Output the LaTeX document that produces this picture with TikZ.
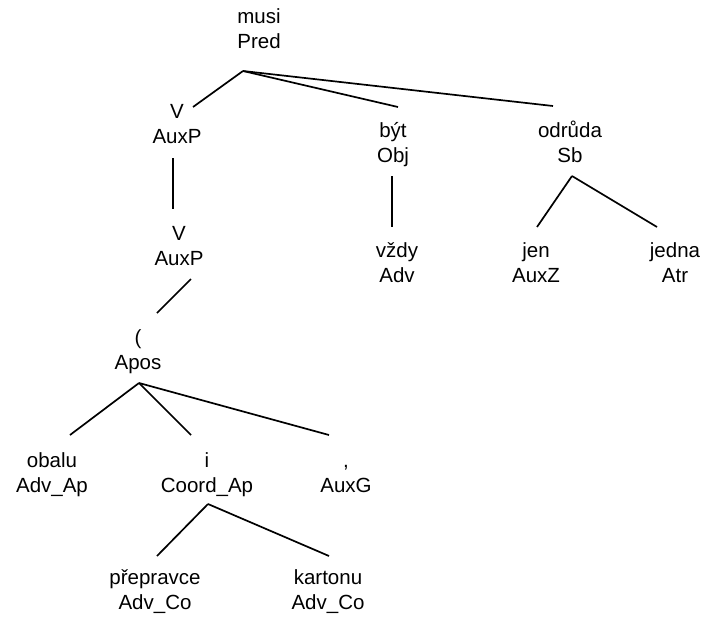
\documentclass[tikz,border=0pt]{standalone}
\usepackage{fontspec}
\setmainfont{Liberation Sans}
\begin{document}
\begin{tikzpicture}[x=1pt,y=-1pt,
  lbl/.style={align=center,inner sep=0pt,anchor=base,font=\fontsize{20.5}{25}\selectfont},
  conn/.style={line width=1.7pt}]
\useasboundingbox (0,0) rectangle (701,616);
% nodes (anchor = baseline of second line)
\node[lbl] (musi) at (259,48) {musi\\Pred};
\node[lbl] (v1) at (177,143) {V\\AuxP};
\node[lbl] (byt) at (393,162) {být\\Obj};
\node[lbl] (odr) at (570,162) {odrůda\\Sb};
\node[lbl] (v2) at (179,265) {V\\AuxP};
\node[lbl] (vzdy) at (397,282) {vždy\\Adv};
\node[lbl] (jen) at (536,282) {jen\\AuxZ};
\node[lbl] (jedna) at (675,282) {jedna\\Atr};
\node[lbl] (apos) at (138,369) {(\\Apos};
\node[lbl] (obalu) at (52,492) {obalu\\Adv\_Ap};
\node[lbl] (coord) at (207,492) {i\\Coord\_Ap};
\node[lbl] (auxg) at (346,492) {,\\AuxG};
\node[lbl] (prep) at (155,609) {přepravce\\Adv\_Co};
\node[lbl] (kart) at (328,609) {kartonu\\Adv\_Co};
% connection points
\coordinate (musi-b) at (243,71);
\coordinate (v1-t) at (193,107);
\coordinate (byt-t) at (398,107);
\coordinate (odr-t) at (553,106);
\coordinate (v1-b) at (173,158);
\coordinate (v2-t) at (173,209);
\coordinate (byt-b) at (392,176);
\coordinate (vzdy-t) at (392,227);
\coordinate (odr-b) at (572,176);
\coordinate (jen-t) at (537,227);
\coordinate (jedna-t) at (657,227);
\coordinate (v2-b) at (191,279);
\coordinate (apos-t) at (157,313);
\coordinate (apos-b) at (139,383);
\coordinate (obalu-t) at (70,435);
\coordinate (coord-t) at (191,435);
\coordinate (auxg-t) at (329,435);
\coordinate (coord-b) at (208,504);
\coordinate (prep-t) at (157,556);
\coordinate (kart-t) at (329,556);
% connectors
\draw[conn] (musi-b) -- (v1-t);
\draw[conn] (musi-b) -- (byt-t);
\draw[conn] (musi-b) -- (odr-t);
\draw[conn] (v1-b) -- (v2-t);
\draw[conn] (byt-b) -- (vzdy-t);
\draw[conn] (odr-b) -- (jen-t);
\draw[conn] (odr-b) -- (jedna-t);
\draw[conn] (v2-b) -- (apos-t);
\draw[conn] (apos-b) -- (obalu-t);
\draw[conn] (apos-b) -- (coord-t);
\draw[conn] (apos-b) -- (auxg-t);
\draw[conn] (coord-b) -- (prep-t);
\draw[conn] (coord-b) -- (kart-t);
\end{tikzpicture}
\end{document}
